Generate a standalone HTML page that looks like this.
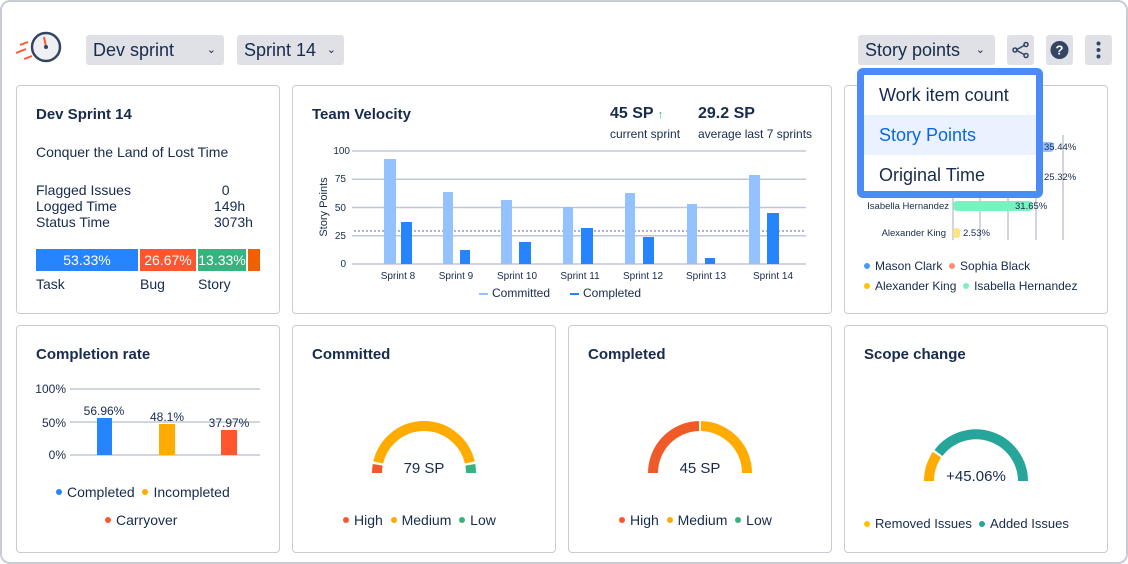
<!DOCTYPE html>
<html><head><meta charset="utf-8"><style>
*{margin:0;padding:0;box-sizing:border-box}
body{width:1128px;height:564px;background:#fff;font-family:"Liberation Sans",sans-serif;color:#172b4d;position:relative;overflow:hidden}
.frame{position:absolute;left:0;top:0;width:1128px;height:564px;border:2px solid #c8ccd4;border-radius:10px}
.a{position:absolute;white-space:nowrap}
.card{position:absolute;border:1px solid #c9ccd3;border-radius:4px;background:#fff}
.t{font-size:15px;font-weight:bold}
.dd{position:absolute;background:#dfe1e6;border-radius:3px;font-size:18px;padding:6px 7px;height:30px;line-height:19px}
.dot{display:inline-block;width:6px;height:6px;border-radius:50%;margin-right:5px;vertical-align:middle;position:relative;top:-1px}
</style></head><body>
<div class="frame"></div>
<svg class="a" style="left:14px;top:28px" width="50" height="42">
<circle cx="32" cy="19" r="14" fill="#eef0f4" stroke="#344563" stroke-width="2.5"/>
<line x1="30" y1="9" x2="32" y2="19" stroke="#ff5630" stroke-width="2"/><circle cx="32" cy="19" r="2" fill="#344563"/>
<line x1="6" y1="17" x2="14" y2="14" stroke="#ff5630" stroke-width="2"/><line x1="2" y1="25" x2="12" y2="21" stroke="#ff5630" stroke-width="2"/><line x1="10" y1="31" x2="18" y2="28" stroke="#ff5630" stroke-width="2"/>
</svg>
<div class="dd" style="left:86px;top:35px;width:138px">Dev sprint<span style="position:absolute;right:8px;font-size:11px">⌄</span></div>
<div class="dd" style="left:237px;top:35px;width:107px">Sprint 14<span style="position:absolute;right:8px;font-size:11px">⌄</span></div>
<div class="dd" style="left:858px;top:35px;width:137px">Story points<span style="position:absolute;right:10px;font-size:11px">⌄</span></div>
<div class="dd" style="left:1007px;top:35px;width:27px;padding:0"><svg width="27" height="30"><g stroke="#344563" stroke-width="1.5" fill="none"><line x1="9" y1="15" x2="18" y2="10"/><line x1="9" y1="15" x2="18" y2="20"/><circle cx="8" cy="15" r="2"/><circle cx="19" cy="9.5" r="2"/><circle cx="19" cy="20.5" r="2"/></g></svg></div>
<div class="dd" style="left:1046px;top:35px;width:27px;padding:0"><svg width="27" height="30"><circle cx="13.5" cy="15" r="9" fill="#344563"/><text x="13.5" y="19.5" font-size="13" font-weight="bold" fill="#fff" text-anchor="middle" font-family="Liberation Sans">?</text></svg></div>
<div class="dd" style="left:1085px;top:35px;width:27px;padding:0"><svg width="27" height="30"><g fill="#344563"><circle cx="13.5" cy="8.5" r="2"/><circle cx="13.5" cy="15" r="2"/><circle cx="13.5" cy="21.5" r="2"/></g></svg></div>

<div class="card" style="left:16px;top:85px;width:264px;height:229px"></div>
<div class="a t" style="left:36px;top:106px">Dev Sprint 14</div>
<div class="a" style="left:36px;top:144px;font-size:14px">Conquer the Land of Lost Time</div>
<div class="a" style="left:36px;top:182px;font-size:14px;line-height:16px">Flagged Issues<br>Logged Time<br>Status Time</div>
<div class="a" style="left:214px;top:182px;font-size:14px;line-height:16px">&nbsp;&nbsp;0<br>149h<br>3073h</div>
<div class="a" style="left:36px;top:249px;width:102px;height:22px;background:#2684ff;color:#fff;font-size:14px;text-align:center;line-height:22px">53.33%</div>
<div class="a" style="left:140px;top:249px;width:56px;height:22px;background:#ff5630;color:#fff;font-size:14px;text-align:center;line-height:22px">26.67%</div>
<div class="a" style="left:198px;top:249px;width:48px;height:22px;background:#36b37e;color:#fff;font-size:14px;text-align:center;line-height:22px">13.33%</div>
<div class="a" style="left:248px;top:249px;width:12px;height:22px;background:#f06000"></div>
<div class="a" style="left:36px;top:276px;font-size:14px">Task</div>
<div class="a" style="left:140px;top:276px;font-size:14px">Bug</div>
<div class="a" style="left:198px;top:276px;font-size:14px">Story</div>

<div class="card" style="left:292px;top:85px;width:540px;height:229px"></div>
<div class="a t" style="left:312px;top:106px">Team Velocity</div>
<div class="a" style="left:610px;top:105px;font-size:16px;font-weight:bold">45 SP <span style="color:#36b37e;font-size:11px">↑</span></div>
<div class="a" style="left:698px;top:105px;font-size:16px;font-weight:bold">29.2 SP</div>
<div class="a" style="left:610px;top:127px;font-size:12px">current sprint</div>
<div class="a" style="left:698px;top:127px;font-size:12px">average last 7 sprints</div>
<svg class="a" style="left:292px;top:85px" width="540" height="229" font-family="Liberation Sans" font-size="10" fill="#172b4d">
<g stroke="#c1c7d6" stroke-width="1.5"><line x1="60" y1="66" x2="514" y2="66"/><line x1="60" y1="94.3" x2="514" y2="94.3"/><line x1="60" y1="122.5" x2="514" y2="122.5"/><line x1="60" y1="150.8" x2="514" y2="150.8"/><line x1="60" y1="179" x2="514" y2="179"/></g>
<g text-anchor="end"><text x="58" y="69">100</text><text x="54" y="97">75</text><text x="54" y="126">50</text><text x="54" y="154">25</text><text x="54" y="182">0</text></g>
<text transform="translate(35,122) rotate(-90)" text-anchor="middle" font-size="11">Story Points</text>
<line x1="62" y1="146" x2="514" y2="146" stroke="#6554c0" stroke-width="1" stroke-dasharray="2,2"/>
<g fill="#94c1ff">
<rect x="92" y="74" width="12" height="105"/><rect x="151" y="107" width="10" height="72"/><rect x="209" y="115" width="11" height="64"/><rect x="271" y="122" width="10" height="57"/><rect x="333" y="108" width="10" height="71"/><rect x="395" y="119" width="10" height="60"/><rect x="457" y="90" width="11" height="89"/></g>
<g fill="#2684ff">
<rect x="109" y="137" width="11" height="42"/><rect x="168" y="165" width="10" height="14"/><rect x="227" y="157" width="12" height="22"/><rect x="289" y="143" width="12" height="36"/><rect x="351" y="152" width="11" height="27"/><rect x="413" y="173" width="10" height="6"/><rect x="475" y="128" width="12" height="51"/></g>
<g text-anchor="middle"><text x="106" y="194">Sprint 8</text><text x="164" y="194">Sprint 9</text><text x="225" y="194">Sprint 10</text><text x="288" y="194">Sprint 11</text><text x="351" y="194">Sprint 12</text><text x="414" y="194">Sprint 13</text><text x="481" y="194">Sprint 14</text></g>
<rect x="187" y="208" width="9" height="2" fill="#94c1ff"/><text x="200" y="212" font-size="12">Committed</text>
<rect x="278" y="208" width="9" height="2" fill="#2684ff"/><text x="291" y="212" font-size="12">Completed</text>
</svg>

<div class="card" style="left:844px;top:85px;width:264px;height:229px"></div>
<svg class="a" style="left:844px;top:85px" width="264" height="229" font-family="Liberation Sans" font-size="9.5" fill="#172b4d">
<g stroke="#c1c7d6" stroke-width="1.5"><line x1="109" y1="50" x2="109" y2="155"/><line x1="136" y1="50" x2="136" y2="155"/><line x1="164" y1="50" x2="164" y2="155"/><line x1="192" y1="50" x2="192" y2="155"/><line x1="219" y1="50" x2="219" y2="155"/></g>
<rect x="109" y="57" width="101" height="10" rx="4" fill="#94c1ff"/><text x="200" y="65">35.44%</text>
<rect x="109" y="86" width="72" height="10" rx="4" fill="#ff8f73"/><text x="200" y="95">25.32%</text>
<rect x="109" y="116" width="80" height="10" rx="4" fill="#79f2c0"/><text x="171" y="124">31.65%</text><text x="105" y="124" text-anchor="end">Isabella Hernandez</text>
<rect x="109" y="143" width="7" height="10" rx="3" fill="#ffe380"/><text x="119" y="151">2.53%</text><text x="102" y="151" text-anchor="end">Alexander King</text>
</svg>
<div class="a" style="left:864px;top:259px;font-size:12px"><span class="dot" style="background:#4c9aff"></span>Mason Clark &nbsp;<span class="dot" style="background:#ff8f73"></span>Sophia Black</div>
<div class="a" style="left:864px;top:279px;font-size:12px"><span class="dot" style="background:#ffc400"></span>Alexander King &nbsp;<span class="dot" style="background:#79f2c0"></span>Isabella Hernandez</div>

<div class="a" style="left:857px;top:68px;width:186px;height:130px;border:7px solid #4c8af5;border-radius:6px;background:#fff;font-size:18px">
<div style="height:40px;line-height:40px;padding-left:15px">Work item count</div>
<div style="height:40px;line-height:40px;padding-left:15px;background:#e9f2fe;color:#0c66e4">Story Points</div>
<div style="height:40px;line-height:40px;padding-left:15px">Original Time</div>
</div>

<div class="card" style="left:16px;top:325px;width:264px;height:228px"></div>
<div class="card" style="left:292px;top:325px;width:264px;height:228px"></div>
<div class="card" style="left:568px;top:325px;width:264px;height:228px"></div>
<div class="card" style="left:844px;top:325px;width:264px;height:228px"></div>
<div class="a t" style="left:36px;top:346px">Completion rate</div>
<div class="a t" style="left:312px;top:346px">Committed</div>
<div class="a t" style="left:588px;top:346px">Completed</div>
<div class="a t" style="left:864px;top:346px">Scope change</div>

<svg class="a" style="left:0;top:0" width="1128" height="564" font-family="Liberation Sans" fill="#172b4d">
<g stroke="#c1c7d6" stroke-width="1.5"><line x1="70" y1="389" x2="260" y2="389"/><line x1="70" y1="422" x2="260" y2="422"/><line x1="70" y1="455" x2="260" y2="455"/></g>
<g font-size="12" text-anchor="end"><text x="66" y="393">100%</text><text x="66" y="427">50%</text><text x="66" y="459">0%</text></g>
<rect x="97" y="418" width="15" height="37" fill="#2684ff"/><rect x="159" y="424" width="16" height="31" fill="#ffab00"/><rect x="221" y="430" width="16" height="25" fill="#ff5630"/>
<g font-size="12" text-anchor="middle"><text x="104" y="415">56.96%</text><text x="167" y="421">48.1%</text><text x="229" y="427">37.97%</text></g>
<g fill="none" stroke-width="10">
<path d="M377,473 A47,47 0 0 1 377.7,464.8" stroke="#f05a28"/>
<path d="M378.2,462.5 A47,47 0 0 1 469.8,462.5" stroke="#ffab00"/>
<path d="M470.3,464.8 A47,47 0 0 1 471,473" stroke="#36b37e"/>
<path d="M653,473 A47,47 0 0 1 699,426" stroke="#f05a28"/>
<path d="M701,426 A47,47 0 0 1 747,473" stroke="#ffab00"/>
<path d="M929,481 A47,47 0 0 1 937,454.7" stroke="#ffab00"/>
<path d="M938.5,453 A47,47 0 0 1 1023,481" stroke="#26a69a"/>
</g>
<g font-size="15" text-anchor="middle"><text x="424" y="473">79 SP</text><text x="700" y="473">45 SP</text><text x="976" y="481">+45.06%</text></g>
</svg>
<div class="a" style="left:56px;top:484px;font-size:14px"><span class="dot" style="background:#2684ff"></span>Completed &nbsp;<span class="dot" style="background:#ffab00"></span>Incompleted</div>
<div class="a" style="left:105px;top:512px;font-size:14px"><span class="dot" style="background:#ff5630"></span>Carryover</div>
<div class="a" style="left:343px;top:512px;font-size:14px"><span class="dot" style="background:#ff5630"></span>High &nbsp;<span class="dot" style="background:#ffab00"></span>Medium &nbsp;<span class="dot" style="background:#36b37e"></span>Low</div>
<div class="a" style="left:619px;top:512px;font-size:14px"><span class="dot" style="background:#ff5630"></span>High &nbsp;<span class="dot" style="background:#ffab00"></span>Medium &nbsp;<span class="dot" style="background:#36b37e"></span>Low</div>
<div class="a" style="left:864px;top:516px;font-size:13px"><span class="dot" style="background:#ffc400"></span>Removed Issues &nbsp;<span class="dot" style="background:#26a69a"></span>Added Issues</div>
</body></html>
